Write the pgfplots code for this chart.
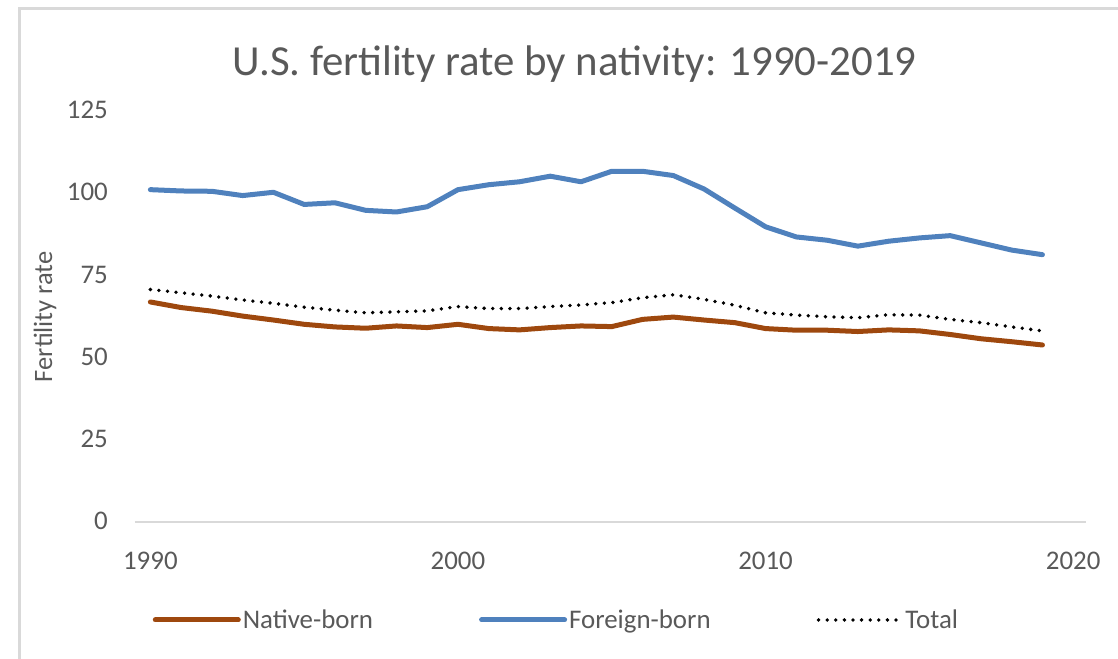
\documentclass[border=0pt]{standalone}
\usepackage{fontspec}
\setmainfont{Carlito}
\usepackage{pgfplots}
\usepackage{pgfplotstable}
\pgfplotsset{compat=1.18}
\definecolor{txt}{HTML}{595959}
\definecolor{fb}{HTML}{4F81BD}
\definecolor{nb}{HTML}{9E480E}
\definecolor{framec}{HTML}{D9D9D9}
\definecolor{axc}{HTML}{D9D9D9}

\pgfplotstableread{
year native foreign total
1990 67.0 101.2 70.8
1991 65.3 100.8 69.8
1992 64.2 100.7 68.8
1993 62.7 99.4 67.6
1994 61.5 100.4 66.6
1995 60.2 96.7 65.4
1996 59.4 97.2 64.5
1997 59.0 94.9 63.7
1998 59.7 94.4 64.0
1999 59.2 96.0 64.3
2000 60.2 101.2 65.6
2001 58.9 102.7 65.0
2002 58.5 103.6 65.0
2003 59.2 105.3 65.6
2004 59.7 103.6 66.1
2005 59.5 106.8 66.8
2006 61.7 106.8 68.3
2007 62.4 105.5 69.2
2008 61.5 101.4 67.8
2009 60.7 95.6 66.0
2010 58.9 89.9 63.7
2011 58.4 86.8 63.0
2012 58.4 85.8 62.5
2013 58.0 84.0 62.2
2014 58.5 85.5 63.1
2015 58.2 86.5 63.0
2016 57.1 87.2 61.7
2017 55.8 85.0 60.7
2018 54.9 82.8 59.4
2019 53.9 81.4 58.2
}\fert

\begin{document}
\begin{tikzpicture}
\path[use as bounding box] (-135bp,-137bp) rectangle (983bp,522bp);
\draw[framec, line width=3bp] (-115bp,-145bp) -- (-115bp,513bp) -- (995bp,513bp);
\node[txt, anchor=base, inner sep=0pt, font=\fontsize{43}{50}\selectfont] at (439.5bp,446bp) {U.S. fertility rate by nativity: 1990-2019};
\begin{axis}[
  at={(0,0)}, anchor=south west,
  scale only axis, width=950.5bp, height=410.5bp,
  xmin=1989.5, xmax=2020.4, ymin=0, ymax=125,
  xtick={1990,2000,2010,2020}, ytick={0,25,50,75,100,125},
  axis lines=left,
  axis line style={-},
  y axis line style={draw=none},
  x axis line style={draw=axc, line width=2bp},
  major tick length=0pt,
  /pgf/number format/assume math mode=true,
  /pgf/number format/1000 sep={},
  tick label style={txt, font=\fontsize{27}{32}\selectfont},
  xticklabel style={anchor=base, yshift=-47bp},
  yticklabel style={anchor=mid east, inner sep=0pt, xshift=-27bp, yshift=-5bp},
  ylabel={Fertility rate},
  every axis y label/.style={at={(rel axis cs:0,0.5)}, rotate=90, anchor=center,
    yshift=90bp, text=txt, font=\fontsize{26.6}{30}\selectfont},
  clip=false,
  legend columns=3,
  legend style={draw=none, fill=none, at={(0.4434,-0.2387)}, anchor=center,
    font=\fontsize{27}{32}\selectfont, text=txt, inner sep=0pt,
    /tikz/every even column/.append style={column sep=104bp}},
  legend cell align=left,
  legend image code/.code={\draw[#1] (0bp,0bp) -- (83bp,0bp);},
]
\addplot[nb, line width=5bp, line join=round, line cap=round] table[x=year, y=native] {\fert};
\addlegendentry{Native-born}
\addplot[fb, line width=5bp, line join=round, line cap=round] table[x=year, y=foreign] {\fert};
\addlegendentry{Foreign-born}
\addplot[black, line width=3.8bp, line cap=round, dash pattern=on 0bp off 8.6bp] table[x=year, y=total] {\fert};
\addlegendentry{Total}
\end{axis}
\end{tikzpicture}
\end{document}
